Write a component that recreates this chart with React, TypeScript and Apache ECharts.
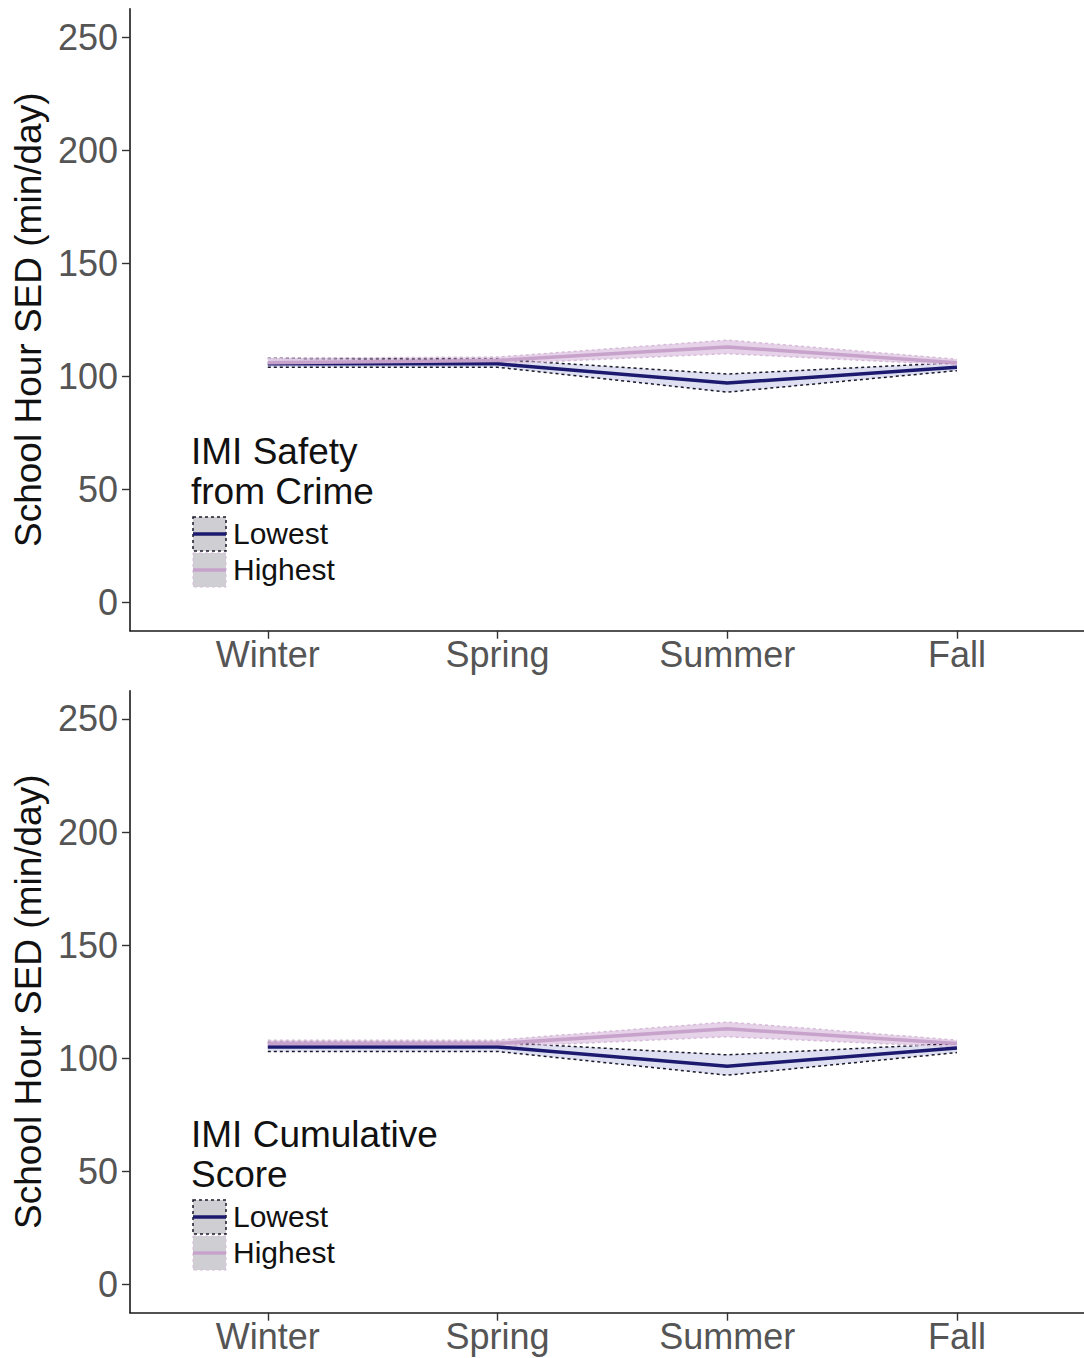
import React, { useEffect, useRef } from "react";
import * as echarts from "echarts";

// Seasons on the x axis (positions 1..4 on a continuous scale)
const seasons = ["Winter", "Spring", "Summer", "Fall"];
const seasonPos = [1, 2, 3, 4];
const yTicks = [0, 50, 100, 150, 200, 250];

// Panel 1: IMI Safety from Crime
const safetyLowestMean = [105.5, 105.5, 97, 104];
const safetyLowestLower = [104, 104, 93, 102.5];
const safetyLowestUpper = [108, 107.5, 101, 106];
const safetyHighestMean = [106, 107, 113, 106];
const safetyHighestLower = [105, 105.5, 110, 105];
const safetyHighestUpper = [108, 108.5, 116, 107.5];

// Panel 2: IMI Cumulative Score
const cumLowestMean = [105, 105, 96.5, 104.5];
const cumLowestLower = [103, 103, 92.5, 102.5];
const cumLowestUpper = [107, 107, 101.5, 106.5];
const cumHighestMean = [106.5, 106.5, 113, 106.5];
const cumHighestLower = [105, 105, 109.5, 105];
const cumHighestUpper = [108, 108, 116, 108];

const legendTitles = [["IMI Safety", "from Crime"], ["IMI Cumulative", "Score"]];
const legendLabels = ["Lowest", "Highest"];

const FONT = '"Liberation Sans", Arial, sans-serif';
const NAVY = "#1b1a6f";
const PINK = "#c7a3cb";
const LOW_FILL = "rgba(205,208,235,0.65)";
const HIGH_FILL = "rgba(222,196,226,0.75)";
const LOW_BORDER = "#1a1a2a";
const HIGH_BORDER = "#d6bcd8";

const panels = [
  {
    lowMean: safetyLowestMean, lowLo: safetyLowestLower, lowHi: safetyLowestUpper,
    highMean: safetyHighestMean, highLo: safetyHighestLower, highHi: safetyHighestUpper,
  },
  {
    lowMean: cumLowestMean, lowLo: cumLowestLower, lowHi: cumLowestUpper,
    highMean: cumHighestMean, highLo: cumHighestLower, highHi: cumHighestUpper,
  },
];

const gridTops = [8.75, 690.7];
const GRID_H = 622;

function bandSeries(lower: number[], upper: number[], idx: number, fill: string) {
  return {
    type: "custom",
    xAxisIndex: idx,
    yAxisIndex: idx,
    silent: true,
    data: seasonPos.map((x, i) => [x, lower[i], upper[i]]),
    encode: { x: 0, y: [1, 2] },
    renderItem: (params: any, api: any) => {
      if (params.dataIndex !== 0) return null;
      const pts: number[][] = [];
      for (let i = 0; i < seasonPos.length; i++) pts.push(api.coord([seasonPos[i], upper[i]]));
      for (let i = seasonPos.length - 1; i >= 0; i--) pts.push(api.coord([seasonPos[i], lower[i]]));
      return { type: "polygon", shape: { points: pts }, style: { fill, stroke: "none" } };
    },
  };
}

function lineSeries(vals: number[], idx: number, color: string, width: number, type: any) {
  return {
    type: "line",
    xAxisIndex: idx,
    yAxisIndex: idx,
    silent: true,
    symbol: "none",
    data: seasonPos.map((x, i) => [x, vals[i]]),
    lineStyle: { color, width, type },
  };
}

function legendGraphics(idx: number, top: number) {
  const g: any[] = [];
  const [l1, l2] = legendTitles[idx];
  g.push({ type: "text", left: 191, top: top - 20, style: { text: l1, font: `37px ${FONT}`, fill: "#111" } });
  g.push({ type: "text", left: 191, top: top + 20, style: { text: l2, font: `37px ${FONT}`, fill: "#111" } });
  const boxY = top + 64;
  // Lowest key
  g.push({ type: "rect", shape: { x: 193, y: boxY, width: 33, height: 34 }, style: { fill: "#cfcfd3", stroke: LOW_BORDER, lineWidth: 1.5, lineDash: [3, 3] } });
  g.push({ type: "line", shape: { x1: 193, y1: boxY + 17, x2: 226, y2: boxY + 17 }, style: { stroke: NAVY, lineWidth: 3.5 } });
  g.push({ type: "text", left: 233, top: boxY + 1, style: { text: legendLabels[0], font: `30px ${FONT}`, fill: "#111" } });
  // Highest key
  g.push({ type: "rect", shape: { x: 193, y: boxY + 36, width: 33, height: 34 }, style: { fill: "#cfcfd3", stroke: HIGH_BORDER, lineWidth: 1, lineDash: [3, 3] } });
  g.push({ type: "line", shape: { x1: 193, y1: boxY + 53, x2: 226, y2: boxY + 53 }, style: { stroke: PINK, lineWidth: 3.5 } });
  g.push({ type: "text", left: 233, top: boxY + 37, style: { text: legendLabels[1], font: `30px ${FONT}`, fill: "#111" } });
  return g;
}

export default function App() {
  const ref = useRef<HTMLDivElement>(null);

  useEffect(() => {
    document.body.style.margin = "0";
    if (!ref.current) return;
    const chart = echarts.init(ref.current, null, { renderer: "svg" });

    // The plotting panel runs past the right edge of the page; the x scale is cut at 4.553
    const grids = gridTops.map((t) => ({ left: 130, top: t, width: 954, height: GRID_H, containLabel: false }));

    const xAxes = gridTops.map((_, i) => ({
      type: "value",
      gridIndex: i,
      min: 0.4,
      max: 4.553,
      splitLine: { show: false },
      axisLine: { show: true, onZero: false, lineStyle: { color: "#1a1a1a", width: 1.6 } },
      axisTick: { show: true, length: 8, customValues: seasonPos, lineStyle: { color: "#333", width: 1.4 } },
      axisLabel: {
        customValues: seasonPos,
        formatter: (v: number) => seasons[Math.round(v) - 1] ?? "",
        fontSize: 36,
        fontFamily: FONT,
        color: "#555555",
        margin: 6,
      },
    }));

    const yAxes = gridTops.map((_, i) => ({
      type: "value",
      gridIndex: i,
      min: -12.5,
      max: 262.5,
      splitLine: { show: false },
      name: "School Hour SED (min/day)",
      nameLocation: "middle",
      nameGap: 83,
      nameTextStyle: { fontSize: 37, fontFamily: FONT, color: "#111" },
      axisLine: { show: true, onZero: false, lineStyle: { color: "#1a1a1a", width: 1.6 } },
      axisTick: { show: true, length: 8, customValues: yTicks, lineStyle: { color: "#333", width: 1.4 } },
      axisLabel: {
        customValues: yTicks,
        fontSize: 36,
        fontFamily: FONT,
        color: "#555555",
        margin: 12,
      },
    }));

    const series: any[] = [];
    panels.forEach((p, i) => {
      series.push(bandSeries(p.lowLo, p.lowHi, i, LOW_FILL));
      series.push(bandSeries(p.highLo, p.highHi, i, HIGH_FILL));
      series.push(lineSeries(p.lowLo, i, LOW_BORDER, 1.5, [3, 3]));
      series.push(lineSeries(p.lowHi, i, LOW_BORDER, 1.5, [3, 3]));
      series.push(lineSeries(p.highLo, i, HIGH_BORDER, 1.5, [3, 3]));
      series.push(lineSeries(p.highHi, i, HIGH_BORDER, 1.5, [3, 3]));
      series.push(lineSeries(p.lowMean, i, NAVY, 3.5, "solid"));
      series.push(lineSeries(p.highMean, i, PINK, 3.5, "solid"));
    });

    chart.setOption({
      animation: false,
      backgroundColor: "#ffffff",
      grid: grids,
      xAxis: xAxes,
      yAxis: yAxes,
      series,
      graphic: [...legendGraphics(0, 453), ...legendGraphics(1, 1136)],
    });

    return () => chart.dispose();
  }, []);

  return <div ref={ref} style={{ width: 1084, height: 1358 }} />;
}
